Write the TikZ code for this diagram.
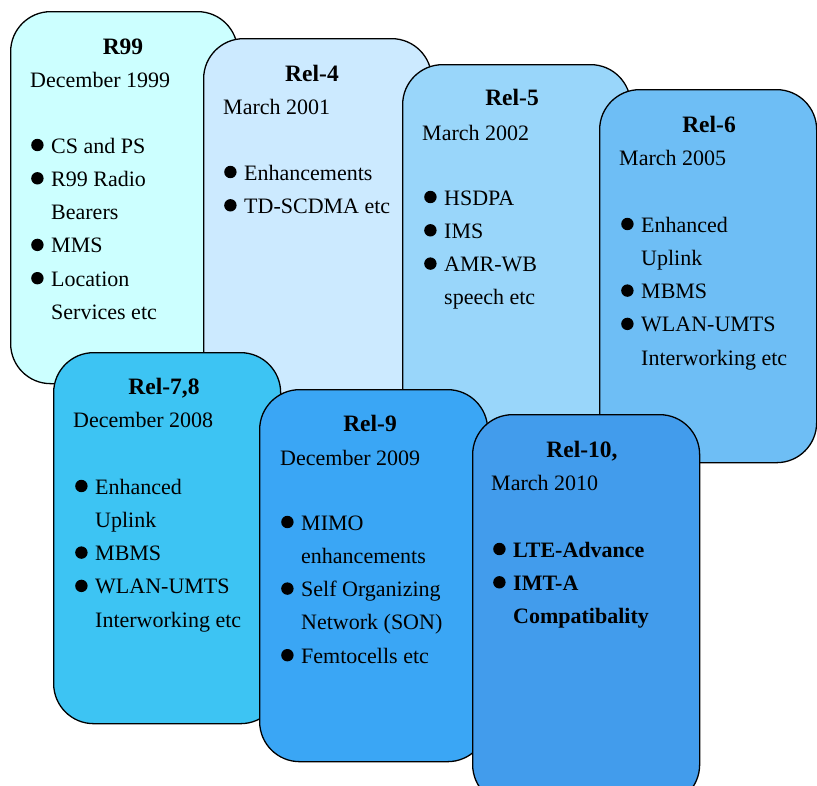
\documentclass[tikz,border=0pt]{standalone}
\usepackage{fontspec}
\setmainfont{Liberation Serif}

% fills of the release cards, oldest to newest
\definecolor{cR99}{RGB}{204,255,255}
\definecolor{cRel4}{RGB}{204,234,255}
\definecolor{cRel5}{RGB}{153,214,250}
\definecolor{cRel6}{RGB}{110,190,245}
\definecolor{cRel78}{RGB}{61,196,243}
\definecolor{cRel9}{RGB}{58,166,245}
\definecolor{cRel10}{RGB}{66,156,236}

% filled round bullet followed by the item text
\newcommand\itm{\makebox[20pt][l]{\tikz[baseline=-8pt]\fill (6pt,0pt) circle (6.2pt);}}
\newcommand\cont{\hspace*{20pt}}
\newcommand\txtsize{\fontsize{22}{33.3}\selectfont}
\newcommand\ttlsize{\fontsize{23.5}{33.3}\selectfont}

\begin{document}
\begin{tikzpicture}[x=1pt,y=-1pt,
  card/.style={draw=black, line width=1.3pt, rounded corners=40pt,
    anchor=north west, inner sep=0pt},
  ttl/.style={anchor=base, inner sep=0pt, font=\ttlsize\bfseries},
  dt/.style={anchor=base west, inner sep=0pt, font=\txtsize},
  lst/.style={anchor=base west, inner sep=0pt, font=\txtsize}]

\useasboundingbox (0,0) rectangle (817,785);
\clip (0,0) rectangle (817,785);

% cards, drawn back to front
\node[card, fill=cR99,   minimum width=227pt, minimum height=372pt] (r99)  at (10,11)  {};
\node[card, fill=cRel4,  minimum width=228pt, minimum height=390pt] (rel4) at (203,38) {};
\node[card, fill=cRel5,  minimum width=228pt, minimum height=390pt] (rel5) at (402,64) {};
\node[card, fill=cRel6,  minimum width=217pt, minimum height=373pt] (rel6) at (599,89) {};
\node[card, fill=cRel78, minimum width=227pt, minimum height=371pt] (rel78) at (53,352) {};
\node[card, fill=cRel9,  minimum width=228pt, minimum height=372pt] (rel9) at (259,389) {};
\node[card, fill=cRel10, minimum width=227pt, minimum height=390pt] (rel10) at (472,414) {};

% R99
\node[ttl] (t99) at (123,54) {R99};
\node[dt]  (d99) at (30,87) {December 1999};
\node[lst] (l99) at (31,153) {\begin{tabular}[t]{@{}l@{}}
  \itm CS and PS\\ \itm R99 Radio\\ \cont Bearers\\ \itm MMS\\ \itm Location\\ \cont Services etc
\end{tabular}};

% Rel-4
\node[ttl] (t4) at (312,81) {Rel-4};
\node[dt]  (d4) at (223,114) {March 2001};
\node[lst] (l4) at (224,180) {\begin{tabular}[t]{@{}l@{}}
  \itm Enhancements\\ \itm TD-SCDMA etc
\end{tabular}};

% Rel-5
\node[ttl] (t5) at (512,105) {Rel-5};
\node[dt]  (d5) at (422,140) {March 2002};
\node[lst] (l5) at (424,205) {\begin{tabular}[t]{@{}l@{}}
  \itm HSDPA\\ \itm IMS\\ \itm AMR-WB\\ \cont speech etc
\end{tabular}};

% Rel-6
\node[ttl] (t6) at (709,132) {Rel-6};
\node[dt]  (d6) at (619,165) {March 2005};
\node[lst] (l6) at (621,232) {\begin{tabular}[t]{@{}l@{}}
  \itm Enhanced\\ \cont Uplink\\ \itm MBMS\\ \itm WLAN-UMTS\\ \cont Interworking etc
\end{tabular}};

% Rel-7,8
\node[ttl] (t78) at (164,394) {Rel-7,8};
\node[dt]  (d78) at (73,427) {December 2008};
\node[lst] (l78) at (75,494) {\begin{tabular}[t]{@{}l@{}}
  \itm Enhanced\\ \cont Uplink\\ \itm MBMS\\ \itm WLAN-UMTS\\ \cont Interworking etc
\end{tabular}};

% Rel-9
\node[ttl] (t9) at (370,431) {Rel-9};
\node[dt]  (d9) at (280,465) {December 2009};
\node[lst] (l9) at (281,530) {\begin{tabular}[t]{@{}l@{}}
  \itm MIMO\\ \cont enhancements\\ \itm Self Organizing\\ \cont Network (SON)\\ \itm Femtocells etc
\end{tabular}};

% Rel-10
\node[ttl] (t10) at (582,457) {Rel-10,};
\node[dt]  (d10) at (491,490) {March 2010};
\node[lst, font=\txtsize\bfseries] (l10) at (493,557) {\begin{tabular}[t]{@{}l@{}}
  \itm LTE-Advance\\ \itm IMT-A\\ \cont Compatibality
\end{tabular}};
\end{tikzpicture}
\end{document}
